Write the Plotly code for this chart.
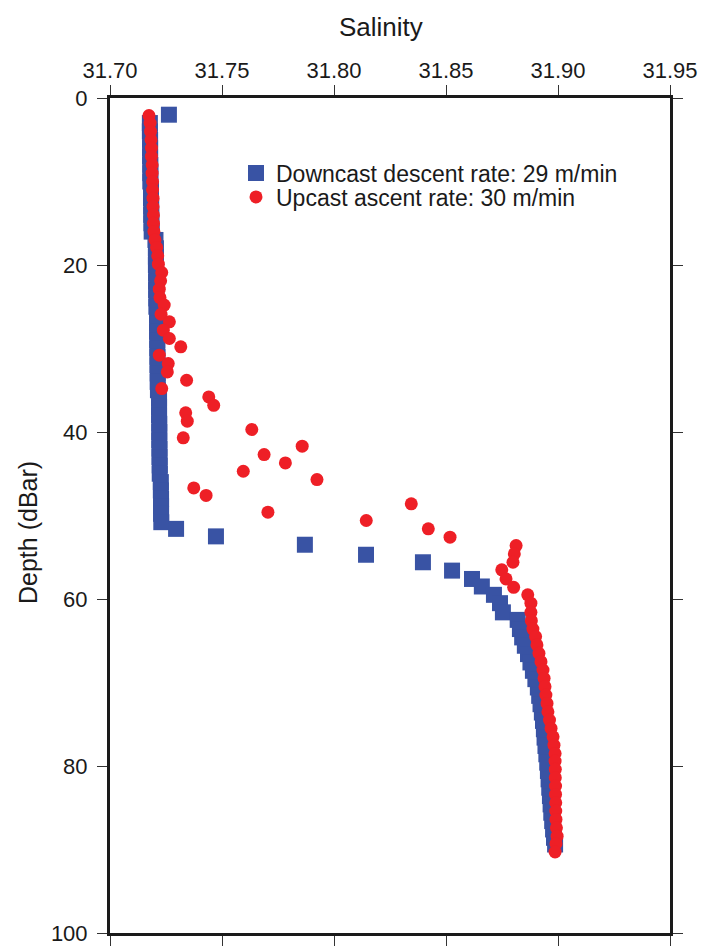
import plotly.graph_objects as go

# Downcast profile (pressure in dBar, salinity)
down_depth = [
    2.0, 3.0, 4.0, 5.0, 6.0, 7.0, 8.0, 9.0, 10.0, 11.0, 12.0, 13.0, 14.0, 15.0, 16.0,
    17.0, 18.0, 19.0, 20.0, 21.0, 22.0, 23.0, 24.0, 25.0, 26.0, 27.0, 28.0, 29.0, 30.0,
    31.0, 32.0, 33.0, 34.0, 35.0, 36.0, 37.0, 38.0, 39.0, 40.0, 41.0, 42.0, 43.0, 44.0,
    45.0, 46.0, 47.0, 48.0, 48.9, 49.8, 50.8, 51.6, 52.5, 53.5, 54.7, 55.6, 56.6, 57.6,
    58.5, 59.5, 60.5, 61.6, 62.5, 63.6, 64.6, 65.6, 66.6, 67.6, 68.6, 69.6, 70.6, 71.6,
    72.6, 73.6, 74.6, 75.6, 76.6, 77.6, 78.6, 79.6, 80.6, 81.6, 82.6, 83.6, 84.6, 85.6,
    86.6, 87.6, 88.6, 89.4,
]
down_sal = [
    31.7263, 31.7178, 31.7178, 31.7179, 31.7179, 31.7179, 31.7180, 31.7180, 31.7180,
    31.7183, 31.7183, 31.7184, 31.7184, 31.7185, 31.7186, 31.7203, 31.7205, 31.7205,
    31.7205, 31.7206, 31.7206, 31.7206, 31.7207, 31.7207, 31.7210, 31.7210, 31.7210,
    31.7211, 31.7211, 31.7212, 31.7212, 31.7213, 31.7213, 31.7214, 31.7219, 31.7219,
    31.7219, 31.7220, 31.7220, 31.7220, 31.7221, 31.7221, 31.7222, 31.7222, 31.7227,
    31.7227, 31.7228, 31.7228, 31.7228, 31.7229, 31.7295, 31.7473, 31.7870, 31.8143,
    31.8397, 31.8527, 31.8616, 31.8660, 31.8714, 31.8741, 31.8754, 31.8820, 31.8830,
    31.8840, 31.8852, 31.8866, 31.8877, 31.8888, 31.8899, 31.8910, 31.8916, 31.8922,
    31.8928, 31.8933, 31.8937, 31.8940, 31.8944, 31.8948, 31.8952, 31.8955, 31.8958,
    31.8961, 31.8964, 31.8967, 31.8970, 31.8974, 31.8978, 31.8982, 31.8987,
]

# Upcast profile (pressure in dBar, salinity)
up_depth = [
    2.1, 3.0, 4.0, 5.0, 6.0, 7.0, 8.0, 9.0, 10.0, 11.0, 12.0, 13.0, 14.0, 15.0, 16.0,
    17.0, 17.9, 18.9, 19.9, 20.9, 21.9, 22.9, 23.9, 24.8, 25.9, 26.8, 27.8, 28.8, 29.8,
    30.8, 31.8, 32.8, 33.8, 34.8, 35.8, 36.8, 37.7, 38.7, 39.7, 40.7, 41.7, 42.7, 43.7,
    44.7, 45.7, 46.7, 47.6, 48.6, 49.6, 50.6, 51.6, 52.6, 53.6, 54.6, 55.6, 56.5, 57.6,
    58.6, 59.5, 60.5, 61.6, 62.6, 63.6, 64.5, 65.5, 66.5, 67.5, 68.5, 69.5, 70.5, 71.5,
    72.5, 73.5, 74.5, 75.5, 76.5, 77.5, 78.5, 79.4, 80.4, 81.4, 82.4, 83.4, 84.4, 85.4,
    86.4, 87.4, 88.4, 89.3, 90.3,
]
up_sal = [
    31.7174, 31.7179, 31.7181, 31.7183, 31.7185, 31.7185, 31.7188, 31.7188, 31.7190,
    31.7190, 31.7192, 31.7192, 31.7194, 31.7194, 31.7196, 31.7201, 31.7208, 31.7213,
    31.7216, 31.7231, 31.7226, 31.7220, 31.7223, 31.7242, 31.7228, 31.7265, 31.7238,
    31.7265, 31.7316, 31.7220, 31.7260, 31.7256, 31.7342, 31.7231, 31.7441, 31.7463,
    31.7338, 31.7345, 31.7633, 31.7327, 31.7858, 31.7688, 31.7783, 31.7595, 31.7924,
    31.7374, 31.7429, 31.8345, 31.7705, 31.8144, 31.8421, 31.8518, 31.8813, 31.8805,
    31.8799, 31.8749, 31.8768, 31.8802, 31.8865, 31.8879, 31.8879, 31.8881, 31.8888,
    31.8900, 31.8906, 31.8915, 31.8924, 31.8933, 31.8938, 31.8942, 31.8946, 31.8951,
    31.8955, 31.8962, 31.8969, 31.8978, 31.8982, 31.8987, 31.8987, 31.8988, 31.8988,
    31.8989, 31.8989, 31.8990, 31.8990, 31.8991, 31.8993, 31.8996, 31.8991, 31.8987,
]

sal_ticks = [31.70, 31.75, 31.80, 31.85, 31.90, 31.95]
depth_ticks = [0, 20, 40, 60, 80, 100]

BLUE = "#3953A4"
RED = "#EE1F26"
INK = "#1a1a1a"
FONT = "Liberation Sans, Arial, sans-serif"

W, H = 701, 946
M_L, M_R, M_T, M_B = 110, 31, 98, 13
PLOT_W = W - M_L - M_R
PLOT_H = H - M_T - M_B


def px_x(px):
    """Paper x coordinate from a pixel column."""
    return (px - M_L) / PLOT_W


def px_y(py):
    """Paper y coordinate from a pixel row (measured from the top)."""
    return 1 - (py - M_T) / PLOT_H


fig = go.Figure()
fig.add_trace(go.Scatter(
    x=down_sal, y=down_depth, mode="markers",
    name="Downcast descent rate: 29 m/min", legend="legend",
    marker=dict(symbol="square", size=16, color=BLUE, line=dict(width=0)),
))
fig.add_trace(go.Scatter(
    x=up_sal, y=up_depth, mode="markers",
    name="Upcast ascent rate: 30 m/min", legend="legend2",
    marker=dict(symbol="circle", size=13, color=RED, line=dict(width=0)),
))

axis_common = dict(
    showgrid=False, zeroline=False,
    showline=True, linecolor=INK, linewidth=3, mirror="ticks",
    ticks="outside", ticklen=10, tickwidth=1.2, tickcolor="#333333",
    tickfont=dict(family=FONT, size=22, color=INK),
    ticklabeloverflow="allow",
    automargin=False,
)

legend_common = dict(
    xanchor="left", yanchor="middle",
    bgcolor="rgba(0,0,0,0)", borderwidth=0,
    font=dict(family=FONT, size=23, color=INK),
    itemsizing="trace",
)

fig.update_layout(
    width=W, height=H,
    margin=dict(l=M_L, r=M_R, t=M_T, b=M_B),
    paper_bgcolor="white", plot_bgcolor="white",
    font=dict(family=FONT, color=INK),
    showlegend=True,
    legend=dict(legend_common, x=px_x(236), y=px_y(173)),
    legend2=dict(legend_common, x=px_x(236), y=px_y(197)),
    xaxis=dict(
        axis_common, side="top", range=[31.70, 31.95],
        tickvals=sal_ticks, ticktext=[f"{v:.2f}" for v in sal_ticks],
        ticklabelstandoff=-2,
    ),
    yaxis=dict(
        axis_common, range=[100, 0],
        tickvals=depth_ticks, ticktext=[str(v) for v in depth_ticks],
        ticklabelstandoff=5,
    ),
    annotations=[
        dict(text="Salinity", xref="paper", yref="paper",
             x=px_x(381), y=px_y(27), xanchor="center", yanchor="middle",
             showarrow=False, font=dict(family=FONT, size=26, color=INK)),
        dict(text="Depth (dBar)", xref="paper", yref="paper",
             x=px_x(28), y=px_y(533), xanchor="center", yanchor="middle",
             textangle=-90, showarrow=False,
             font=dict(family=FONT, size=25, color=INK)),
    ],
)

fig.write_html("out.html")
